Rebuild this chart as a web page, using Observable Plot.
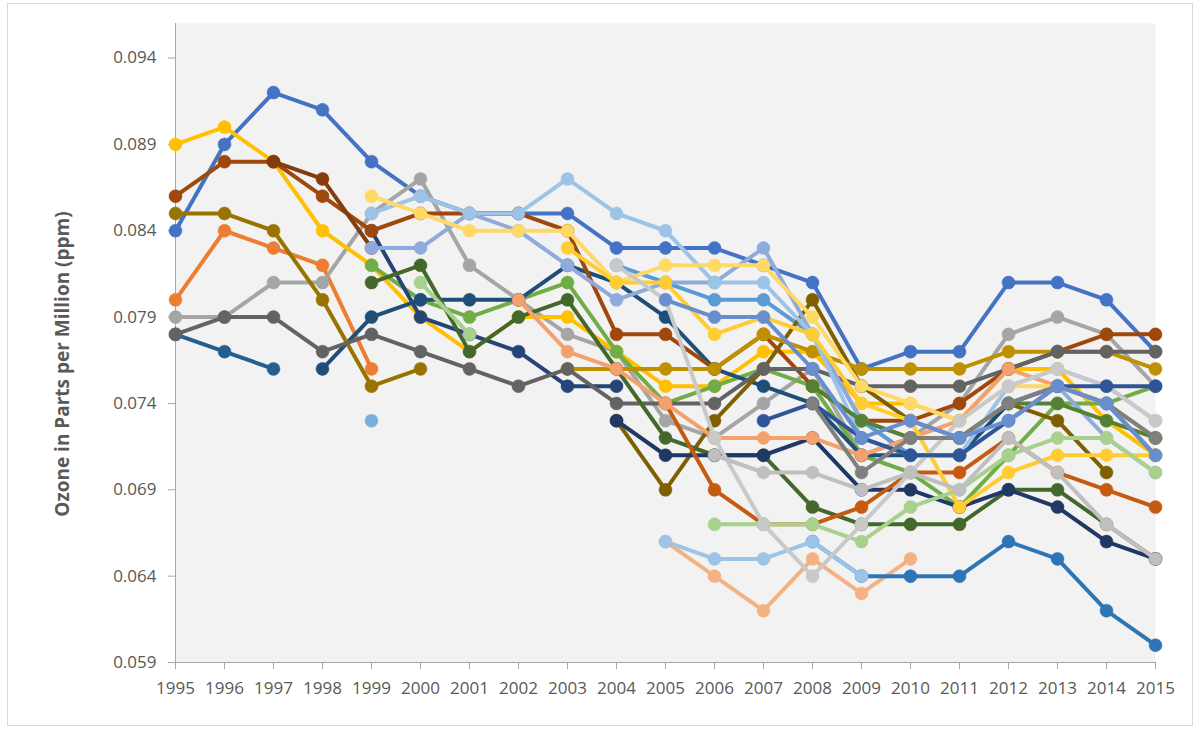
<!DOCTYPE html>
<html><head><meta charset="utf-8">
<script src="https://cdn.jsdelivr.net/npm/d3@7"></script>
<script src="https://cdn.jsdelivr.net/npm/@observablehq/plot@0.6"></script>
<style>
body{margin:0;background:#fff;}
#wrap{position:relative;width:1201px;height:729px;overflow:hidden;}
#chart{position:absolute;left:0;top:0;}
#border{position:absolute;left:7px;top:3px;width:1186px;height:723px;border:1px solid #D9D9D9;box-sizing:border-box;pointer-events:none;}
#ylabel{position:absolute;left:62px;top:364px;transform:translate(-50%,-50%) rotate(-90deg);white-space:nowrap;font-family:"Open Sans",sans-serif;font-weight:bold;font-size:19px;color:#595959;}
</style></head><body>
<div id="wrap"><div id="chart"></div><div id="ylabel">Ozone in Parts per Million (ppm)</div><div id="border"></div></div>
<script>
// Year categories / x tick labels
const years = [1995,1996,1997,1998,1999,2000,2001,2002,2003,2004,2005,2006,2007,2008,2009,2010,2011,2012,2013,2014,2015];
// y tick labels (ppm)
const yTicks = [0.059,0.064,0.069,0.074,0.079,0.084,0.089,0.094];

// Series values in parts per billion (ppm x 1000), listed from their first year
const site01 = [84,89,92,91,88,86,85,85,85,83,83,83,82,81,76,77,77,81,81,80,77];
const site02 = [80,84,83,82,76];
const site03 = [79,79,81,81,85,87,82,80,78,77,73,72,74,76,71,72,74,78,79,78,75];
const site04 = [89,90,88,84,82,79,77,79,79,77,75,75,77,77,74,74,73,76,76,73,71];
const site05 = [82,81,80,80,78,73,71,71,74,75,74,72];
const site06 = [82,80,79,80,81,77,74,75,76,75,71,70,68,71,74,74,75];
const site07 = [84,79,78,77,75,75];
const site08 = [78,77,76];
const site09 = [76,79,80,80,80,82,81,79,76,75,74,71,71,71,74,75,74,71];
const site10 = [86,88,88,86,84,85,85,85,84,78,78,76,78,75,73,73,74,76,77,78,78];
const site11 = [88,87,83];
const site12 = [85,85,84,80,75,76];
const site13 = [73,69,73,76,80,75,73,72,74,73,70];
const site14 = [76,76,76,76,78,77,76,76,76,77,77,77,76];
const site15 = [78,79,79,77,78,77,76,75,76,74,74,74,76,76,75,75,75,76,77,77,77];
const site16 = [81,82,77,79,80,76,72,71,71,68,67,67,67,69,69,67,65];
const site17 = [73,71,71,71,72,69,69,68,69,68,66,65];
const site18 = [66,64,62,65,63,65];
const site19 = [66,64,64,64,66,65,62,60];
const site20 = [66,65,65,66,64];
const site21 = [74,69,67,67,68,70,70,72,70,69,68];
const site22 = [80,77,76,74,72,72,72,71,72,73,76,75,74,72];
const site23 = [83,83,85,84,82,80,81,81,83,78,73,72,72,74,75,72,70];
const site24 = [85,86,85,85,87,85,84,81,81,78,72,71,71,75,76,75,73];
const site25 = [86,85,84,84,84,81,82,82,82,79,75,74,73,75,75,74,72];
const site26 = [83,81,81,78,79,78,74,73,68,70,71,71,71];
const site27 = [81,78,null,null,null,null,67,67,67,66,68,69,71,72,72,70];
const site28 = [82,80,72,67,64,67,70,73,75,76,75,73];
const site29 = [71,70,70,69,70,69,72,70,67,65];
const site30 = [73];
const site31 = [73,74,72,71,71,73,75,75,75];
const site32 = [75,73,72,72,74,74,73,72];
const site33 = [74,70,72,72,74,75,74,72];
const site34 = [80,79,79,76,72,73,72,73,75,74,71];

const seriesValues = [site01,site02,site03,site04,site05,site06,site07,site08,site09,site10,site11,site12,site13,site14,site15,site16,site17,site18,site19,site20,site21,site22,site23,site24,site25,site26,site27,site28,site29,site30,site31,site32,site33,site34];
const seriesStart = [1995,1995,1995,1995,2004,1999,1999,1995,1998,1995,1997,1995,2004,2003,1995,1999,2004,2005,2008,2005,2005,2002,1999,1999,1999,2003,2000,2004,2006,1999,2007,2008,2008,2005];
const seriesColors = ["#4472C4","#ED7D31","#A5A5A5","#FFC000","#5B9BD5","#70AD47","#264478","#255E91","#1F4E79","#9E480E","#843C0C","#997300","#7F6000","#BF9000","#636363","#43682B","#1F3864","#F4B183","#2E75B6","#9DC3E6","#C55A11","#F4A16E","#8FAADC","#9DC3E6","#FFD966","#FFCD33","#A9D18E","#C9C9C9","#BFBFBF","#7CAFDD","#2F5597","#548235","#7F7F7F","#698ED0"];

const marks = [
  Plot.frame({fill: "#F2F2F2", stroke: null}),
  Plot.ruleX([1995], {stroke: "#A6A6A6"}),
  Plot.ruleY([0.059], {stroke: "#A6A6A6"}),
  Plot.axisX({ticks: years, tickFormat: d => String(d), tickSize: 7, tickPadding: 12, stroke: "#A6A6A6", fill: "#595959", label: null}),
  Plot.axisY({ticks: yTicks, tickFormat: d3.format(".3f"), tickSize: 7, tickPadding: 12, stroke: "#A6A6A6", fill: "#595959", label: null})
];

seriesValues.forEach((vals, i) => {
  const rows = vals.map((v, j) => ({year: seriesStart[i] + j, ppm: v == null ? NaN : v / 1000}));
  const col = seriesColors[i];
  marks.push(Plot.line(rows, {x: "year", y: "ppm", stroke: col, strokeWidth: 4, strokeLinejoin: "round"}));
  marks.push(Plot.dot(rows.filter(r => !isNaN(r.ppm)), {x: "year", y: "ppm", r: 6.5, fill: col, stroke: col, strokeWidth: 0.5}));
});

const chart = Plot.plot({
  width: 1201, height: 729,
  marginLeft: 175, marginRight: 46, marginTop: 23, marginBottom: 67,
  style: {fontFamily: "'Open Sans', sans-serif", fontSize: "17px", background: "transparent", overflow: "visible"},
  x: {domain: [1995, 2015], label: null},
  y: {domain: [0.059, 0.096], label: null},
  marks
});
document.getElementById("chart").appendChild(chart);
</script>
</body></html>
